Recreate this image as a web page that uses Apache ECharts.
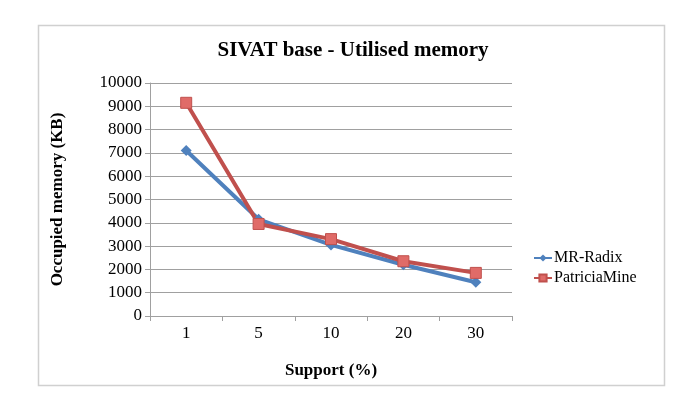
<!DOCTYPE html>
<html>
<head>
<meta charset="utf-8">
<script src="https://cdn.jsdelivr.net/npm/echarts@6/dist/echarts.min.js"></script>
<style>
  html, body { margin: 0; padding: 0; background: #fff; }
  #chart { width: 685px; height: 417px; }
</style>
</head>
<body>
<div id="chart"></div>
<script>
// support thresholds (x axis)
const supports = ['1', '5', '10', '20', '30']
// occupied memory, KB
const mrRadix = [7100, 4150, 3050, 2200, 1450]
const patriciaMine = [9150, 3950, 3300, 2350, 1850]

const serif = '"Liberation Serif", "DejaVu Serif", serif'

const chart = echarts.init(document.getElementById('chart'))

const option = {
  animation: false,
  backgroundColor: '#fff',
  graphic: [
    {
      type: 'rect',
      shape: { x: 38.5, y: 25.5, width: 626, height: 360 },
      style: { fill: 'none', stroke: '#d0d0d0', lineWidth: 1.5 }
    }
  ],
  title: {
    text: 'SIVAT base - Utilised memory',
    left: 348,
    top: 35,
    textAlign: 'center',
    textStyle: { fontFamily: serif, fontSize: 21, fontWeight: 'bold', color: '#000' }
  },
  legend: {
    orient: 'vertical',
    left: 528,
    top: 245,
    itemWidth: 18,
    itemHeight: 9,
    itemGap: 4,
    textStyle: { fontFamily: serif, fontSize: 16, color: '#000', padding: [0, 0, 0, -3] },
    data: ['MR-Radix', 'PatriciaMine']
  },
  grid: { left: 150, right: 173, top: 83, bottom: 101 },
  xAxis: {
    type: 'category',
    data: supports,
    name: 'Support (%)',
    nameLocation: 'middle',
    nameGap: 46,
    nameTextStyle: { fontFamily: serif, fontSize: 17, fontWeight: 'bold', color: '#000' },
    axisLine: { lineStyle: { color: '#a0a0a0' } },
    axisTick: { show: true, alignWithLabel: false, length: 5, lineStyle: { color: '#a0a0a0' } },
    axisLabel: { fontFamily: serif, fontSize: 17, color: '#000', margin: 9 }
  },
  yAxis: {
    type: 'value',
    min: 0,
    max: 10000,
    interval: 1000,
    name: 'Occupied memory (KB)',
    nameLocation: 'middle',
    nameGap: 84,
    nameTextStyle: { fontFamily: serif, fontSize: 17, fontWeight: 'bold', color: '#000' },
    axisLine: { show: true, lineStyle: { color: '#a0a0a0' } },
    axisTick: { show: true, length: 5, lineStyle: { color: '#a0a0a0' } },
    axisLabel: { fontFamily: serif, fontSize: 17, color: '#000', margin: 8, formatter: v => String(v) },
    splitLine: { lineStyle: { color: '#a0a0a0', width: 1 } }
  },
  series: [
    {
      name: 'MR-Radix',
      type: 'line',
      data: mrRadix,
      symbol: 'diamond',
      symbolSize: 11,
      color: '#4F81BD',
      lineStyle: { width: 4, color: '#4F81BD' },
      itemStyle: { color: '#4F81BD' }
    },
    {
      name: 'PatriciaMine',
      type: 'line',
      data: patriciaMine,
      symbol: 'rect',
      symbolSize: 11,
      color: '#C0504D',
      lineStyle: { width: 4, color: '#C0504D' },
      itemStyle: { color: '#E06B68', borderColor: '#C0504D', borderWidth: 1 }
    }
  ]
}

chart.setOption(option)
</script>
</body>
</html>
